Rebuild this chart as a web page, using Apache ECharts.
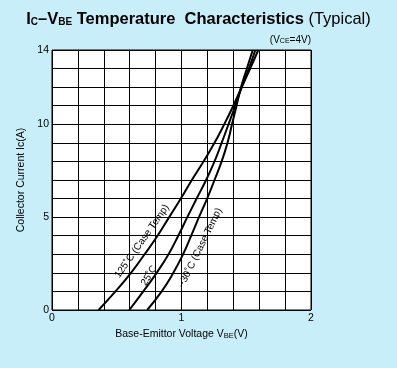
<!DOCTYPE html>
<html><head><meta charset="utf-8">
<script src="https://cdn.jsdelivr.net/npm/echarts@6/dist/echarts.min.js"></script>
<style>html,body{margin:0;padding:0;background:#C8EEFA;}#c{width:397px;height:368px;}</style>
</head><body><div id="c"></div>
<script>
// Collector current (A) sample points
const icValues = [0,1,2,3,4,5,6,7,8,9,10,11,12,13,14];
// Base-emitter voltage (V) at each current, per case temperature
const vbe125 = [0.36,0.49,0.61,0.715,0.815,0.905,0.995,1.08,1.17,1.255,1.33,1.40,1.465,1.53,1.593];
const vbe25  = [0.597,0.705,0.808,0.90,0.975,1.045,1.117,1.19,1.255,1.31,1.363,1.415,1.465,1.52,1.57];
const vbeM30 = [0.735,0.847,0.937,1.012,1.075,1.135,1.198,1.255,1.31,1.355,1.39,1.425,1.46,1.505,1.55];
const xTickLabels = [0,1,2];
const yTickLabels = [0,5,10,14];
const curveLabels = ['125˚C (Case Temp)','25˚C','−30˚C (Case Temp)'];

const chart = echarts.init(document.getElementById('c'));
const mk = arr => arr.map((v,i)=>[v, icValues[i]]);
const isTick = (v, list) => list.some(t => Math.abs(t - v) < 1e-6);
const lineStyle = {color:'#000', width:2};

chart.setOption({
  backgroundColor:'#C8EEFA',
  animation:false,
  title:{
    text:'{b|I}{s|C}{b|–V}{s|BE}{b| Temperature  Characteristics }{n|(Typical)}',
    left:'center', top:6,
    textStyle:{rich:{
      b:{fontFamily:'Liberation Sans',fontWeight:'bold',fontSize:16.5,color:'#000'},
      s:{fontFamily:'Liberation Sans',fontWeight:'bold',fontSize:10,color:'#000',padding:[6,0,0,0]},
      n:{fontFamily:'Liberation Sans',fontWeight:'normal',fontSize:16.5,color:'#000'}
    }}
  },
  grid:{left:52,right:86,top:50,bottom:58,show:true,backgroundColor:'#fff',borderColor:'#000',borderWidth:1},
  xAxis:{type:'value',min:0,max:2,interval:0.2,
    name:'Base-Emittor Voltage V{s|BE}(V)',nameLocation:'middle',nameGap:19,
    nameTextStyle:{fontFamily:'Liberation Sans',fontSize:10.5,color:'#000',rich:{s:{fontSize:7.5,fontFamily:'Liberation Sans',color:'#000',padding:[3,0,0,0]}}},
    axisLine:{show:false},axisTick:{show:false},
    axisLabel:{margin:3,fontFamily:'Liberation Sans',fontSize:10.5,color:'#000',
      formatter:v=>isTick(v,xTickLabels)?String(Math.round(v)):''},
    splitLine:{lineStyle:{color:'#000',width:1}}},
  yAxis:{type:'value',min:0,max:14,interval:1,
    name:'Collector Current Ic(A)',nameLocation:'middle',nameGap:18,
    nameTextStyle:{fontFamily:'Liberation Sans',fontSize:10.5,color:'#000'},
    axisLine:{show:false},axisTick:{show:false},
    axisLabel:{margin:3,fontFamily:'Liberation Sans',fontSize:10.5,color:'#000',
      formatter:v=>isTick(v,yTickLabels)?String(Math.round(v)):''},
    splitLine:{lineStyle:{color:'#000',width:1}}},
  series:[
    {type:'line',data:mk(vbe125),smooth:0.5,symbol:'none',lineStyle},
    {type:'line',data:mk(vbe25),smooth:0.5,symbol:'none',lineStyle},
    {type:'line',data:mk(vbeM30),smooth:0.5,symbol:'none',lineStyle}
  ]
});

// Curve annotations anchored in data coordinates
const labelAnchors = [[0.695,3.7,55],[0.75,1.85,58],[1.145,3.35,64]];
const p = labelAnchors.map(a => chart.convertToPixel({gridIndex:0}, [a[0],a[1]]));
const vce = chart.convertToPixel({gridIndex:0},[2,14]);
chart.setOption({graphic:[
  ...labelAnchors.map((a,i)=>({type:'text',x:p[i][0],y:p[i][1],rotation:a[2]*Math.PI/180,
    style:{text:curveLabels[i],fontFamily:'Liberation Sans',fontSize:10,fill:'#000',align:'center',verticalAlign:'middle'}})),
  {type:'text',x:vce[0],y:vce[1]-10,style:{text:'(V{s|CE}=4V)',align:'right',verticalAlign:'middle',
    fontFamily:'Liberation Sans',fontSize:10,fill:'#000',rich:{s:{fontSize:7,fontFamily:'Liberation Sans',fill:'#000',padding:[2,0,0,0]}}}}
]});
</script></body></html>
